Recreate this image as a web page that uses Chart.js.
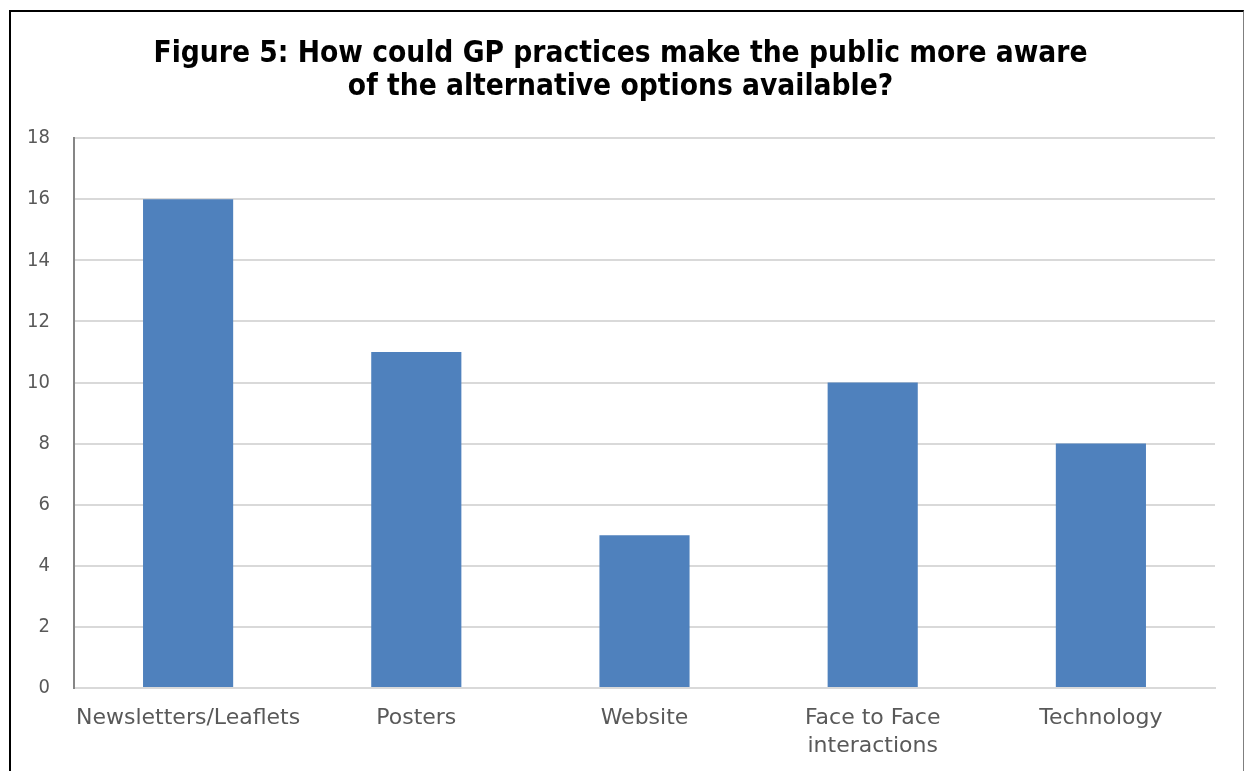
<!DOCTYPE html>
<html>
<head>
<meta charset="utf-8">
<script src="https://cdn.jsdelivr.net/npm/chart.js@4"></script>
<style>
    html, body { margin: 0; padding: 0; background: #fff; }
    #wrap { position: relative; width: 1244px; height: 771px; overflow: hidden; }
    #frame {
        position: absolute; left: 9px; top: 10px; width: 1232px; height: 800px;
        border-left: 2px solid #000; border-top: 2px solid #000; border-right: 1px solid #7f7f7f;
        pointer-events: none;
    }
    canvas { position: absolute; left: 0; top: 0; }
</style>
</head>
<body>
<div id="wrap">
    <canvas id="chart" width="1244" height="771"></canvas>
    <div id="frame"></div>
</div>
<script>
const titleLines = ['Figure 5: How could GP practices make the public more aware', 'of the alternative options available?'];
const categories = ['Newsletters/Leaflets', 'Posters', 'Website', ['Face to Face', 'interactions'], 'Technology'];
const responses = [16, 11, 5, 10, 8];
const yTicks = [0, 2, 4, 6, 8, 10, 12, 14, 16, 18];

const canvas = document.getElementById('chart');

// y axis sits at x=74: left padding + axis width
const padLeft = 26;

new Chart(canvas, {
    type: 'bar',
    data: {
        labels: categories,
        datasets: [{
            data: responses,
            backgroundColor: '#4f81bd',
            categoryPercentage: 1,
            barPercentage: 0.395
        }]
    },
    options: {
        responsive: false,
        animation: false,
        layout: { padding: { top: 38, right: 29, left: padLeft, bottom: 0 } },
        plugins: {
            legend: { display: false },
            tooltip: { enabled: false },
            title: {
                display: true,
                text: titleLines,
                color: '#000',
                font: { family: 'DejaVu Sans Condensed', size: 29.6, weight: 'bold', lineHeight: 1.1 },
                padding: { top: 0, bottom: 35 }
            }
        },
        scales: {
            x: {
                grid: { display: false, drawTicks: false },
                border: { color: '#d9d9d9', width: 2 },
                ticks: {
                    color: '#595959',
                    font: { family: 'DejaVu Sans', size: 22, lineHeight: 1.27 },
                    padding: 16,
                    maxRotation: 0
                },
                afterFit: (scale) => { scale.height = 83; }
            },
            y: {
                min: 0,
                max: 18,
                afterBuildTicks: (scale) => { scale.ticks = yTicks.map(v => ({ value: v })); },
                grid: { color: '#d9d9d9', lineWidth: 2, drawTicks: false },
                border: { color: '#868686', width: 2 },
                ticks: {
                    color: '#595959',
                    font: { family: 'DejaVu Sans Condensed', size: 20 },
                    padding: 24
                },
                afterFit: (scale) => { scale.width = 74 - padLeft; }
            }
        }
    }
});
</script>
</body>
</html>
